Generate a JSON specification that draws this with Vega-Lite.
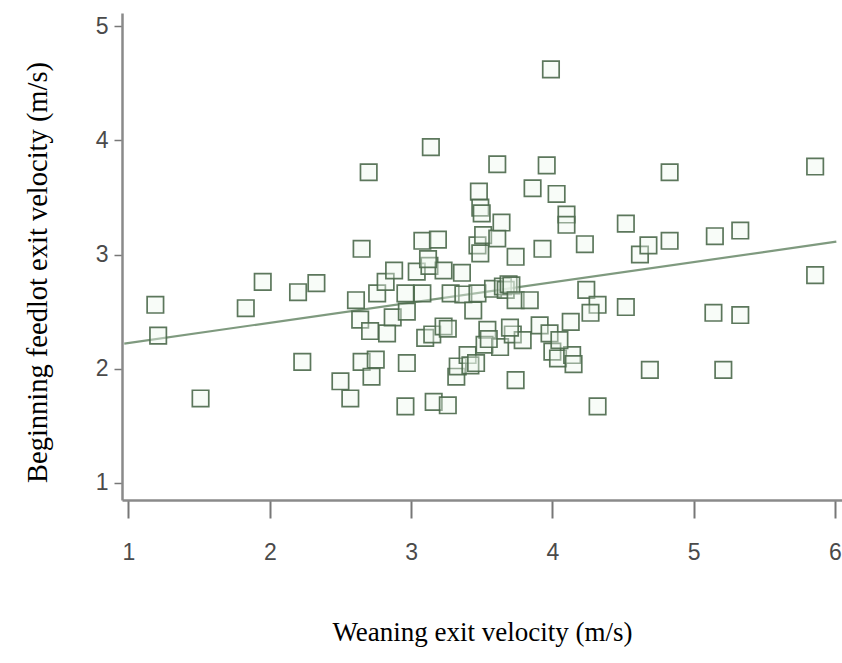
{
  "$schema": "https://vega.github.io/schema/vega-lite/v6.json",
  "autosize": "none",
  "width": 720,
  "height": 487,
  "padding": {"left": 122, "top": 13, "right": 0, "bottom": 163},
  "background": "white",
  "config": {"view": {"stroke": null}},
  "datasets": {
    "pts": [
      {"x":1.19,"y":2.56},{"x":1.21,"y":2.29},{"x":1.51,"y":1.74},{"x":1.83,"y":2.53},{"x":1.95,"y":2.76},
      {"x":2.20,"y":2.67},{"x":2.33,"y":2.75},{"x":2.23,"y":2.06},{"x":2.50,"y":1.89},{"x":2.57,"y":1.74},
      {"x":2.61,"y":2.60},{"x":2.65,"y":3.05},{"x":2.64,"y":2.43},{"x":2.65,"y":2.06},{"x":2.70,"y":3.72},
      {"x":2.71,"y":2.33},{"x":2.75,"y":2.08},{"x":2.72,"y":1.93},{"x":2.76,"y":2.66},{"x":2.82,"y":2.76},
      {"x":2.83,"y":2.31},{"x":2.87,"y":2.45},{"x":2.96,"y":2.66},{"x":2.97,"y":2.50},{"x":2.96,"y":1.67},
      {"x":2.97,"y":2.05},{"x":3.04,"y":2.85},{"x":3.08,"y":3.12},{"x":3.08,"y":2.66},{"x":3.10,"y":2.27},
      {"x":3.13,"y":2.90},{"x":3.15,"y":2.30},{"x":3.14,"y":3.94},{"x":3.16,"y":1.71},{"x":3.19,"y":3.13},
      {"x":3.23,"y":2.86},{"x":3.23,"y":2.37},{"x":3.26,"y":2.35},{"x":3.26,"y":1.68},{"x":3.28,"y":2.66},
      {"x":3.32,"y":1.93},{"x":3.33,"y":2.02},{"x":3.36,"y":2.84},{"x":3.37,"y":2.65},{"x":3.40,"y":2.12},
      {"x":3.42,"y":2.03},{"x":3.46,"y":2.05},{"x":3.44,"y":2.51},{"x":3.47,"y":3.08},{"x":3.51,"y":3.17},
      {"x":3.49,"y":3.01},{"x":3.47,"y":2.66},{"x":3.48,"y":3.55},{"x":3.49,"y":3.41},{"x":3.50,"y":3.36},
      {"x":3.54,"y":2.34},{"x":3.52,"y":2.21},{"x":3.58,"y":2.70},{"x":3.61,"y":3.14},{"x":3.61,"y":3.79},
      {"x":3.63,"y":2.19},{"x":3.64,"y":3.28},{"x":3.65,"y":2.72},{"x":3.67,"y":2.69},{"x":3.69,"y":2.74},
      {"x":3.71,"y":2.73},{"x":3.72,"y":2.30},{"x":3.74,"y":2.98},{"x":3.74,"y":1.90},{"x":3.74,"y":2.60},
      {"x":3.79,"y":2.25},{"x":3.84,"y":2.60},{"x":3.86,"y":3.58},{"x":3.91,"y":2.38},{"x":3.93,"y":3.05},
      {"x":3.96,"y":3.78},{"x":3.98,"y":2.31},{"x":4.00,"y":2.15},{"x":3.99,"y":4.62},{"x":4.03,"y":3.53},
      {"x":4.04,"y":2.09},{"x":4.10,"y":3.35},{"x":4.10,"y":3.26},{"x":4.13,"y":2.41},{"x":4.14,"y":2.12},
      {"x":4.15,"y":2.04},{"x":4.23,"y":3.09},{"x":4.24,"y":2.69},{"x":4.32,"y":2.56},{"x":4.27,"y":2.49},
      {"x":4.32,"y":1.67},{"x":4.52,"y":2.54},{"x":4.52,"y":3.27},{"x":4.62,"y":3.00},{"x":4.68,"y":3.08},
      {"x":4.69,"y":1.99},{"x":4.83,"y":3.12},{"x":4.83,"y":3.72},{"x":5.14,"y":2.49},{"x":5.15,"y":3.16},
      {"x":5.21,"y":1.99},{"x":5.33,"y":3.21},{"x":5.33,"y":2.47},{"x":5.86,"y":3.77},{"x":5.86,"y":2.82},
      {"x":2.88,"y":2.86},{"x":3.12,"y":2.96},{"x":3.55,"y":2.26},{"x":3.70,"y":2.36},{"x":4.05,"y":2.25}
    ],
    "fit": [
      {"x":0.97,"y":2.22},{"x":6.01,"y":3.112}
    ]
  },
  "layer": [
    {
      "data": {"name": "fit"},
      "mark": {"type": "line", "color": "#7f9a7f", "strokeWidth": 2.2, "clip": true},
      "encoding": {
        "x": {"field": "x", "type": "quantitative"},
        "y": {"field": "y", "type": "quantitative"}
      }
    },
    {
      "data": {"name": "pts"},
      "mark": {"type": "point", "shape": "square", "size": 270, "filled": false, "fill": "#eef8ee", "fillOpacity": 0.4, "stroke": "#4a684a", "strokeOpacity": 0.9, "strokeWidth": 1.7, "opacity": 1},
      "encoding": {
        "x": {
          "field": "x", "type": "quantitative",
          "scale": {"domain": [0.954, 6.05], "nice": false, "zero": false},
          "axis": {
            "title": "Weaning exit velocity (m/s)",
            "values": [1, 2, 3, 4, 5, 6],
            "format": "d",
            "grid": false,
            "domainColor": "#8a8a8a", "domainWidth": 2.5,
            "tickColor": "#777777", "tickWidth": 2, "tickSize": 18,
            "labelFont": "Liberation Sans", "labelFontSize": 23, "labelColor": "#4a4a4a", "labelPadding": 23,
            "titleFont": "Liberation Serif", "titleFontSize": 27, "titleFontWeight": "normal", "titleColor": "#000000", "titlePadding": 55
          }
        },
        "y": {
          "field": "y", "type": "quantitative",
          "scale": {"domain": [0.851, 5.114], "nice": false, "zero": false},
          "axis": {
            "title": "Beginning feedlot exit velocity (m/s)",
            "values": [1, 2, 3, 4, 5],
            "format": "d",
            "grid": false,
            "domainColor": "#8a8a8a", "domainWidth": 2.5,
            "tickColor": "#777777", "tickWidth": 1.5, "tickSize": 8,
            "labelFont": "Liberation Sans", "labelFontSize": 23, "labelColor": "#4a4a4a", "labelPadding": 6,
            "titleFont": "Liberation Serif", "titleFontSize": 28.5, "titleFontWeight": "normal", "titleColor": "#000000", "titlePadding": 43,
            "titleY": 259
          }
        }
      }
    }
  ]
}
